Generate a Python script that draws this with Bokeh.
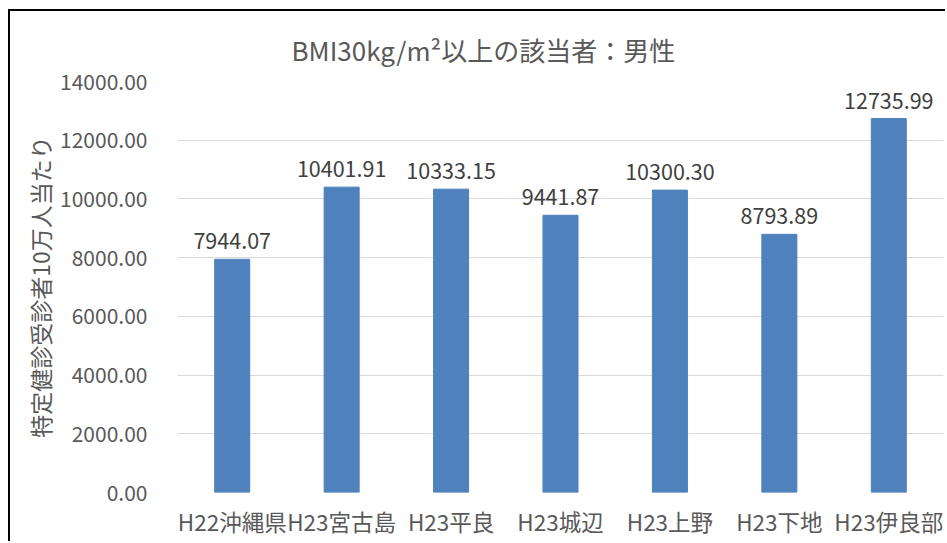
from bokeh.plotting import figure
from bokeh.models import FactorRange, Range1d, FixedTicker, PrintfTickFormatter, ColumnDataSource, Title
from bokeh.core.properties import value
from bokeh.embed import file_html
from bokeh.resources import INLINE

categories = ["H22沖縄県", "H23宮古島", "H23平良", "H23城辺", "H23上野", "H23下地", "H23伊良部"]
values = [7944.07, 10401.91, 10333.15, 9441.87, 10300.30, 8793.89, 12735.99]
y_ticks = [0, 2000, 4000, 6000, 8000, 10000, 12000, 14000]
title_text = "BMI30kg/m²以上の該当者：男性"
y_label = "特定健診受診者10万人当たり"

FONT = "Noto Sans CJK JP"

src = ColumnDataSource(dict(cat=categories, val=values, lab=[f"{v:.2f}" for v in values]))

p = figure(x_range=FactorRange(factors=categories, range_padding=0),
           y_range=Range1d(0, 14000),
           width=937, height=532, output_backend="svg", toolbar_location=None,
           min_border_left=167, min_border_right=4, min_border_top=70, min_border_bottom=51)
p.styles = {"border-left": "2px solid #000000", "border-top": "2px solid #000000",
            "margin-left": "8px", "margin-top": "9px"}

p.vbar(x="cat", top="val", width=0.32, source=src, fill_color="#4F81BD", line_color="#4F81BD")
p.text(x="cat", y="val", text="lab", source=src, text_align="center", text_baseline="bottom",
       y_offset=-10, text_font=value(FONT), text_font_size="21.5px", text_color="#404040")

p.outline_line_color = None
p.xgrid.grid_line_color = None
p.ygrid.grid_line_color = "#D9D9D9"
p.ygrid.grid_line_width = 1

p.yaxis.ticker = FixedTicker(ticks=y_ticks)
p.yaxis.formatter = PrintfTickFormatter(format="%.2f")
for ax in (p.xaxis[0], p.yaxis[0]):
    ax.axis_line_color = None
    ax.major_tick_line_color = None
    ax.minor_tick_line_color = None
    ax.major_label_text_font = FONT
    ax.major_label_text_font_size = "21px"
    ax.major_label_text_color = "#595959"
p.xaxis.major_label_text_font_size = "22.5px"
p.yaxis.major_label_standoff = 24
p.xaxis.major_label_standoff = 6
p.yaxis.axis_label = y_label
p.yaxis.axis_label_text_font = FONT
p.yaxis.axis_label_text_font_size = "23px"
p.yaxis.axis_label_text_font_style = "normal"
p.yaxis.axis_label_text_color = "#595959"
p.yaxis.axis_label_standoff = 0

t = Title(text=title_text, align="left", offset=114, text_font=FONT, text_font_size="26px",
          text_font_style="normal", text_color="#595959", standoff=28)
p.add_layout(t, "above")

open("out.html", "w").write(file_html(p, INLINE))
